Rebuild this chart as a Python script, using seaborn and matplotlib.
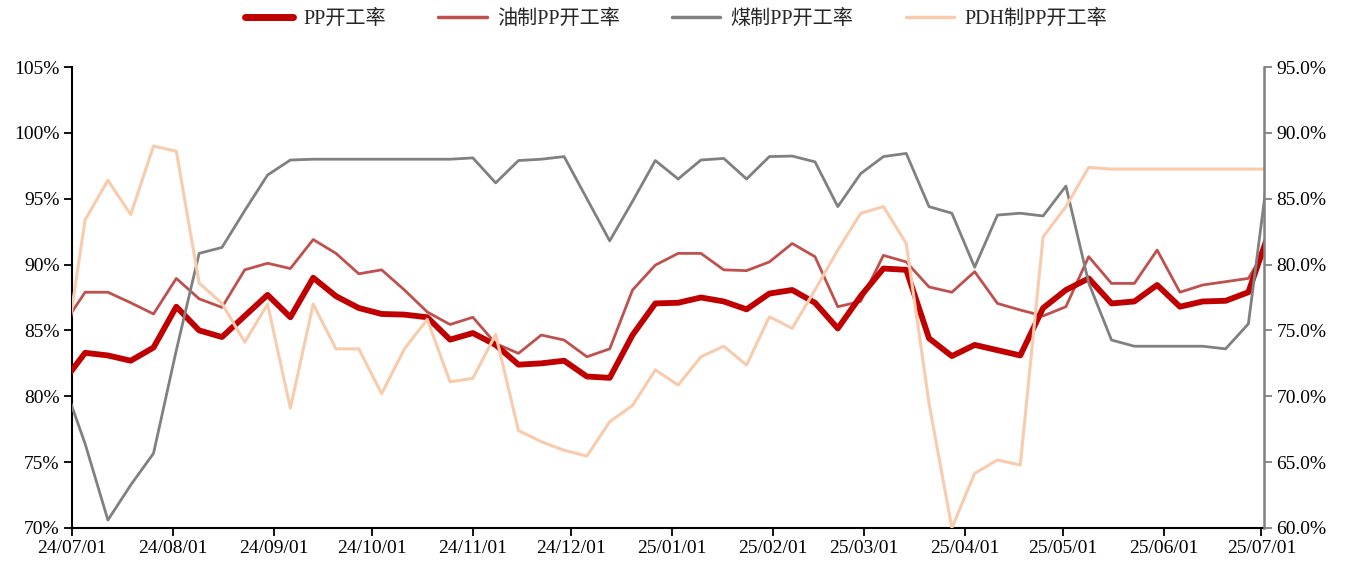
import matplotlib
matplotlib.use("Agg")
import matplotlib.pyplot as plt
import matplotlib.dates as mdates
from matplotlib.ticker import FuncFormatter, MultipleLocator
import seaborn as sns
import pandas as pd
import numpy as np

# Weekly dates (Fridays)
dates = pd.date_range("2024-06-28", periods=54, freq="7D")

# PP开工率 (left axis, %)
pp_total = [81.0, 83.3, 83.1, 82.7, 83.7, 86.8, 85.0, 84.5, 86.1, 87.7,
            86.0, 89.0, 87.6, 86.7, 86.25, 86.2, 86.0, 84.3, 84.8, 83.9,
            82.4, 82.5, 82.7, 81.5, 81.4, 84.65, 87.05, 87.1, 87.5, 87.2,
            86.6, 87.8, 88.07, 87.1, 85.15, 87.6, 89.7, 89.6, 84.4, 83.05,
            83.9, 83.5, 83.1, 86.7, 88.07, 88.95, 87.05, 87.2, 88.45, 86.8,
            87.2, 87.25, 87.9, 92.9]

# 油制PP开工率 (left axis, %)
pp_oil = [85.3, 87.9, 87.9, 87.1, 86.25, 88.95, 87.4, 86.75, 89.6, 90.1,
          89.7, 91.9, 90.85, 89.3, 89.6, 88.07, 86.4, 85.45, 86.0, 84.0,
          83.26, 84.65, 84.27, 83.0, 83.6, 88.07, 89.96, 90.85, 90.85, 89.6,
          89.54, 90.2, 91.6, 90.6, 86.8, 87.2, 90.7, 90.2, 88.3, 87.9,
          89.46, 87.05, 86.55, 86.1, 86.8, 90.6, 88.57, 88.57, 91.1, 87.9,
          88.45, 88.7, 88.95, 91.8]

# 煤制PP开工率 (right axis, %)
pp_coal = [71.3, 66.4, 60.6, 63.26, 65.67, 73.5, 80.85, 81.3, 84.1, 86.8,
           87.94, 88.0, 88.0, 88.0, 88.0, 88.0, 88.0, 88.0, 88.1, 86.2,
           87.9, 88.0, 88.2, 85.0, 81.8, 84.8, 87.9, 86.5, 87.94, 88.06,
           86.5, 88.2, 88.24, 87.8, 84.4, 86.9, 88.2, 88.44, 84.4, 83.9,
           79.8, 83.76, 83.9, 83.69, 85.96, 78.6, 74.27, 73.8, 73.8, 73.8,
           73.8, 73.6, 75.5, 88.9]

# PDH制PP开工率 (right axis, %)
pp_pdh = [71.8, 83.4, 86.4, 83.8, 89.0, 88.6, 78.6, 77.05, 74.1, 77.0,
          69.1, 77.0, 73.6, 73.6, 70.2, 73.6, 75.84, 71.1, 71.36, 74.7,
          67.4, 66.55, 65.9, 65.46, 68.07, 69.3, 72.0, 70.85, 73.0, 73.8,
          72.37, 76.04, 75.16, 78.07, 81.1, 83.89, 84.4, 81.6, 69.46, 60.0,
          64.15, 65.16, 64.78, 82.1, 84.4, 87.38, 87.25, 87.25, 87.25, 87.25,
          87.25, 87.25, 87.25, 87.25]

labels = ["PP开工率", "油制PP开工率", "煤制PP开工率", "PDH制PP开工率"]
colors = ["#C00000", "#C0504D", "#808080", "#F8CBAD"]

sns.set_style("ticks")
plt.rcParams["font.family"] = ["Liberation Serif", "Noto Sans CJK SC"]
plt.rcParams["font.size"] = 14

df = pd.DataFrame({"date": dates, "total": pp_total, "oil": pp_oil,
                   "coal": pp_coal, "pdh": pp_pdh})

fig = plt.figure(figsize=(13.52, 5.69), dpi=100)
ax = fig.add_axes([0.0533, 0.0721, 0.8817, 0.8101])
ax2 = ax.twinx()

sns.lineplot(data=df, x="date", y="oil", ax=ax, color=colors[1], lw=2.0,
             label=labels[1], legend=False)
sns.lineplot(data=df, x="date", y="total", ax=ax, color=colors[0], lw=4.2,
             label=labels[0], legend=False, zorder=5)
sns.lineplot(data=df, x="date", y="coal", ax=ax2, color=colors[2], lw=2.0,
             label=labels[2], legend=False)
sns.lineplot(data=df, x="date", y="pdh", ax=ax2, color=colors[3], lw=2.2,
             label=labels[3], legend=False)

ax.set_ylim(70, 105)
ax2.set_ylim(60, 95)
ax.yaxis.set_major_locator(MultipleLocator(5))
ax2.yaxis.set_major_locator(MultipleLocator(5))
ax.yaxis.set_major_formatter(FuncFormatter(lambda v, p: f"{v:.0f}%"))
ax2.yaxis.set_major_formatter(FuncFormatter(lambda v, p: f"{v:.1f}%"))

ax.set_xlim(pd.Timestamp("2024-07-01"), pd.Timestamp("2025-07-01 20:00"))
ax.xaxis.set_major_locator(mdates.MonthLocator(bymonthday=1))
ax.xaxis.set_major_formatter(mdates.DateFormatter("%y/%m/%d"))

for a in (ax, ax2):
    a.set_xlabel("")
    a.set_ylabel("")
    a.spines["top"].set_visible(False)
    a.grid(False)

ax.spines["right"].set_visible(False)
ax2.spines["left"].set_visible(False)
ax2.spines["bottom"].set_visible(False)
ax.spines["left"].set_color("black")
ax.spines["bottom"].set_color("black")
ax.spines["left"].set_linewidth(1.5)
ax.spines["bottom"].set_linewidth(1.5)
ax2.spines["right"].set_color("#808080")
ax2.spines["right"].set_linewidth(1.8)

ax.tick_params(axis="both", direction="out", length=6, width=1.3,
               colors="black", labelsize=14, pad=3)
ax2.tick_params(axis="y", direction="out", length=6, width=1.3,
                color="#808080", labelcolor="black", labelsize=14, pad=3)

handles = []
for lab, col, lw in zip(labels, colors, [5.0, 2.5, 2.5, 2.5]):
    handles.append(plt.Line2D([], [], color=col, lw=lw, solid_capstyle="round"))
fig.legend(handles, labels, loc="center", bbox_to_anchor=(0.5, 0.966),
           ncol=4, frameon=False, fontsize=14.5, handlelength=2.4,
           handletextpad=0.5, columnspacing=2.6)

fig.savefig("out.png", dpi=100)
